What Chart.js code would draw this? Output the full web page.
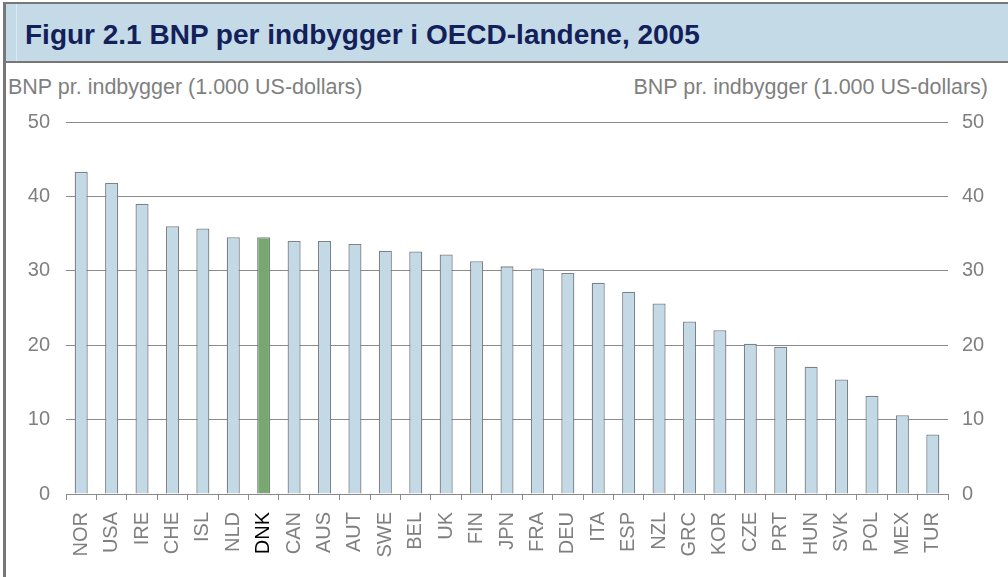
<!DOCTYPE html>
<html lang="da">
<head>
    <meta charset="UTF-8">
    <title>Figur 2.1 BNP per indbygger i OECD-landene, 2005</title>
    <style>
        body { margin: 0; background: #fff; }
        .page { position: relative; width: 1008px; height: 577px; overflow: hidden; font-family: "Liberation Sans", Arial, sans-serif; }
        .frame-left { position: absolute; left: 3px; top: 2px; width: 3px; height: 575px; background: #77777a; }
        .frame-top { position: absolute; left: 3px; top: 2px; width: 1005px; height: 2px; background: #77777a; }
        .band { position: absolute; left: 6px; top: 4px; width: 1002px; height: 57px; background: #c4dbe7; }
        .band-line { position: absolute; left: 16px; top: 4px; width: 1px; height: 57px; background: #dce9f1; }
        .band-bottom { position: absolute; left: 6px; top: 61px; width: 1002px; height: 2px; background: #77777a; }
        .title { position: absolute; left: 25px; top: 20px; font-size: 28px; line-height: 30px; font-weight: bold; color: #13205a; white-space: nowrap; }
        .axis-title { position: absolute; top: 76px; font-size: 21.5px; line-height: 22px; color: #7f7f7f; white-space: nowrap; }
        .axis-title.left { left: 8px; }
        .axis-title.right { right: 20px; }
        .chart-box { position: absolute; left: 6px; top: 63px; width: 1002px; height: 514px; }
    </style>
</head>
<body>
    <div class="page">
        <div class="band"></div>
        <div class="band-line"></div>
        <div class="band-bottom"></div>
        <div class="frame-top"></div>
        <div class="frame-left"></div>
        <div class="title">Figur 2.1 BNP per indbygger i OECD-landene, 2005</div>
        <div class="axis-title left">BNP pr. indbygger (1.000 US-dollars)</div>
        <div class="axis-title right">BNP pr. indbygger (1.000 US-dollars)</div>
        <div class="chart-box">
            <canvas id="bnpChart" width="1002" height="514"></canvas>
        </div>
    </div>

    <script src="https://cdn.jsdelivr.net/npm/chart.js@4.4.1/dist/chart.umd.min.js"></script>
    <script>
        // lande og BNP pr. indbygger (1.000 USD), 2005
        var countries = ["NOR", "USA", "IRE", "CHE", "ISL", "NLD", "DNK", "CAN", "AUS", "AUT",
                         "SWE", "BEL", "UK", "FIN", "JPN", "FRA", "DEU", "ITA", "ESP", "NZL",
                         "GRC", "KOR", "CZE", "PRT", "HUN", "SVK", "POL", "MEX", "TUR"];
        var bnpValues = [43.3, 41.8, 39.0, 36.0, 35.7, 34.5, 34.5, 34.0, 34.0, 33.6,
                         32.7, 32.6, 32.2, 31.3, 30.6, 30.3, 29.7, 28.4, 27.2, 25.6,
                         23.2, 22.0, 20.2, 19.8, 17.1, 15.4, 13.2, 10.6, 8.0];
        var yTicks = [0, 10, 20, 30, 40, 50];
        var highlight = "DNK";

        var grey = "#7f7f7f";
        var lineGrey = "#8a8a8a";
        var barBlue = "#c3dae6";
        var barGreen = "#78a870";

        var fillColors = countries.map(function(c) { return c === highlight ? barGreen : barBlue; });

        function yAxis(position, pad, showGrid) {
            return {
                type: "linear",
                position: position,
                min: yTicks[0],
                max: yTicks[yTicks.length - 1],
                afterFit: function(scale) { scale.width = 60; },
                afterBuildTicks: function(scale) {
                    scale.ticks = yTicks.map(function(v) { return { value: v }; });
                },
                border: { display: false },
                grid: { display: showGrid, color: lineGrey, lineWidth: 1, drawTicks: false },
                ticks: {
                    color: grey,
                    padding: pad,
                    font: { family: "'Liberation Sans', Arial, sans-serif", size: 20 }
                }
            };
        }

        var ctx = document.getElementById("bnpChart").getContext("2d");
        var bnpChart = new Chart(ctx, {
            type: "bar",
            data: {
                labels: countries,
                datasets: [{
                    label: "BNP pr. indbygger",
                    data: bnpValues,
                    backgroundColor: fillColors,
                    borderColor: "#7c8288",
                    borderWidth: 1.3,
                    borderSkipped: "start",
                    barPercentage: 0.43,
                    categoryPercentage: 1.0,
                    yAxisID: "y"
                }]
            },
            options: {
                responsive: false,
                animation: false,
                layout: { padding: { top: 59, left: 0, right: 0, bottom: 0 } },
                plugins: {
                    legend: { display: false },
                    title: { display: false },
                    tooltip: { enabled: false }
                },
                scales: {
                    x: {
                        afterFit: function(scale) { scale.height = 83; },
                        border: { display: true, color: lineGrey, width: 1 },
                        grid: {
                            display: true,
                            drawOnChartArea: false,
                            drawTicks: true,
                            tickLength: 6,
                            color: lineGrey,
                            offset: true
                        },
                        ticks: {
                            autoSkip: false,
                            minRotation: 90,
                            maxRotation: 90,
                            padding: 12,
                            color: function(c) { return countries[c.index] === highlight ? "#000000" : grey; },
                            font: { family: "'Liberation Sans', Arial, sans-serif", size: 20 }
                        }
                    },
                    y: yAxis("left", 16, true),
                    y2: yAxis("right", 14, false)
                }
            }
        });
    </script>
</body>
</html>
